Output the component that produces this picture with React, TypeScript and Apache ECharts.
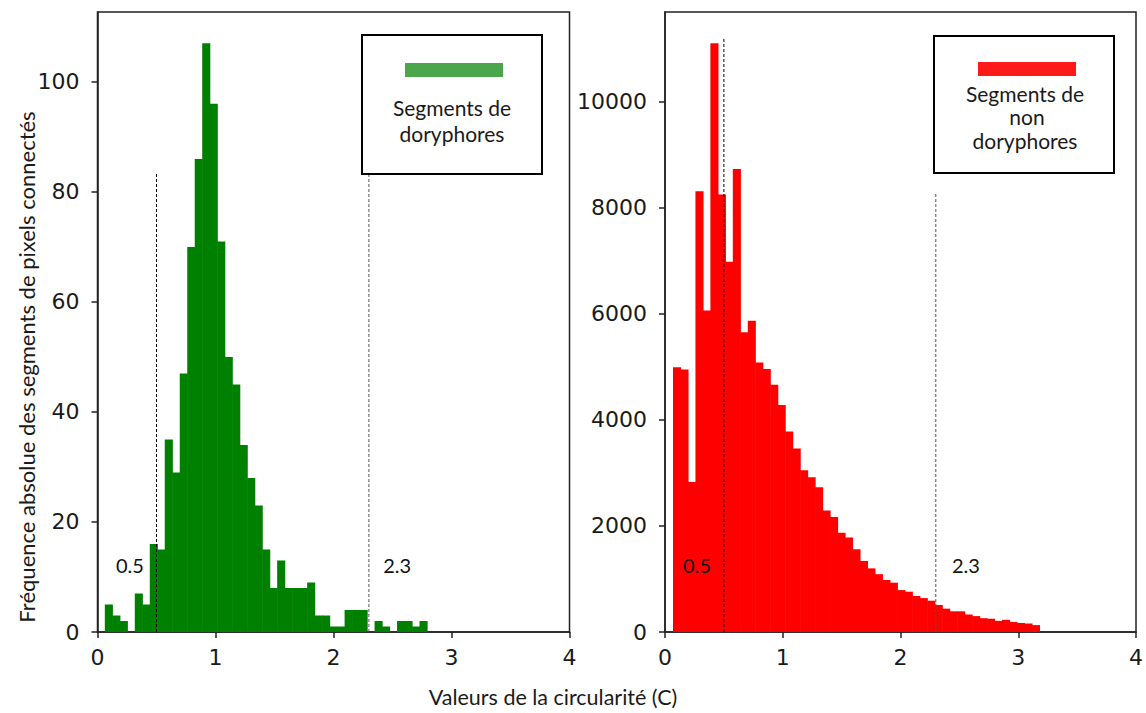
import React, { useEffect, useRef } from 'react';
import * as echarts from 'echarts';

// ---------- data ----------
const X_TICKS = [0, 1, 2, 3, 4];
const GREEN_Y_TICKS = [0, 20, 40, 60, 80, 100];
const RED_Y_TICKS = [0, 2000, 4000, 6000, 8000, 10000];

const GREEN_BIN_START = 0.062;
const GREEN_BIN_WIDTH = 0.0635;
const greenCounts = [
  5, 3, 2, 0, 7, 5, 16, 15, 35, 29, 47, 70, 86, 107, 96, 71, 50, 45, 34, 28, 23, 15,
  8, 13, 8, 8, 8, 9, 3, 3, 1, 1, 4, 4, 4, 0, 2, 1, 0, 2, 2, 1, 2,
];

const RED_BIN_START = 0.068;
const RED_BIN_WIDTH = 0.0635;
const redCounts = [
  4990, 4950, 2830, 8310, 6060, 11100, 8250, 6980, 8730, 5650, 5870, 5080, 4960, 4660,
  4280, 3780, 3460, 3050, 2920, 2730, 2290, 2170, 1870, 1780, 1560, 1340, 1200, 1090,
  980, 930, 790, 760, 680, 640, 590, 510, 440, 390, 390, 330, 300, 260, 250, 210, 230,
  190, 170, 160, 130,
];

const THRESHOLDS = [0.5, 2.3];
const THRESHOLD_LABELS = ['0.5', '2.3'];
const greenThresholdTops = [83.6, 83.6];
const redThresholdTops = [11210, 8270];
const greenLabelPos = [[0.275, 12.2], [2.54, 12.2]];
const redLabelPos = [[0.272, 1263], [2.555, 1263]];

const GREEN_Y_MAX = 112.7;
const RED_Y_MAX = 11690;

const LEGEND_GREEN = ['Segments de', 'doryphores'];
const LEGEND_RED = ['Segments de', 'non', 'doryphores'];
const X_TITLE = 'Valeurs de la circularité (C)';
const Y_TITLE = 'Fréquence absolue des segments de pixels connectés';

// ---------- helpers ----------
const toBins = (start: number, width: number, counts: number[]) =>
  counts.map((c, i) => [start + i * width, start + (i + 1) * width, c]);

const histSeries = (idx: number, bins: number[][], color: string) => ({
  type: 'custom',
  xAxisIndex: idx,
  yAxisIndex: idx,
  data: bins,
  encode: { x: [0, 1], y: 2 },
  clip: true,
  silent: true,
  z: 2,
  renderItem: (params: any, api: any) => {
    const p0 = api.coord([api.value(0), api.value(2)]);
    const p1 = api.coord([api.value(1), 0]);
    return {
      type: 'rect',
      shape: { x: p0[0], y: p0[1], width: p1[0] - p0[0] + 0.6, height: p1[1] - p0[1] },
      style: { fill: color, stroke: null },
    };
  },
});

const thresholdSeries = (idx: number, tops: number[]) =>
  THRESHOLDS.map((t, i) => ({
    type: 'line',
    xAxisIndex: idx,
    yAxisIndex: idx,
    data: [[t, 0], [t, tops[i]]],
    symbol: 'none',
    silent: true,
    z: 5,
    lineStyle: { color: i === 0 ? '#000' : '#555', width: 1, type: [3, 2] },
  }));

const labelSeries = (idx: number, pos: number[][]) => ({
  type: 'scatter',
  xAxisIndex: idx,
  yAxisIndex: idx,
  symbolSize: 0,
  silent: true,
  z: 6,
  itemStyle: { opacity: 1 },
  data: pos.map((p, i) => ({ value: p, name: THRESHOLD_LABELS[i] })),
  label: {
    show: true,
    position: 'inside',
    formatter: (p: any) => p.name,
    fontFamily: 'Lato',
    fontSize: 20,
    color: '#111',
    opacity: 1,
  },
});

const tickFont = { fontFamily: 'DejaVu Sans', fontSize: 22, color: '#1a1a1a' };

const xAxisCfg = (idx: number) => ({
  type: 'value',
  gridIndex: idx,
  min: 0,
  max: 4,
  interval: 1,
  axisLine: { show: true, onZero: false, lineStyle: { color: '#222', width: 1.5 } },
  axisTick: { show: true, length: 6, lineStyle: { color: '#222', width: 1.5 }, customValues: X_TICKS },
  axisLabel: { ...tickFont, margin: 14, customValues: X_TICKS },
  splitLine: { show: false },
});

const yAxisCfg = (idx: number, max: number, ticks: number[]) => ({
  type: 'value',
  gridIndex: idx,
  min: 0,
  max,
  interval: ticks[1] - ticks[0],
  axisLine: { show: true, onZero: false, lineStyle: { color: '#222', width: 1.5 } },
  axisTick: { show: true, length: 6, lineStyle: { color: '#222', width: 1.5 }, customValues: ticks },
  axisLabel: { ...tickFont, margin: 18, customValues: ticks, formatter: (v: number) => String(v) },
  splitLine: { show: false },
});

const legendText = (text: string, x: number, y: number) => ({
  type: 'text',
  x,
  y,
  style: {
    text,
    align: 'center',
    verticalAlign: 'middle',
    font: '21px Lato',
    fill: '#1a1a1a',
  },
});

export default function App() {
  const ref = useRef<HTMLDivElement>(null);

  useEffect(() => {
    const chart = echarts.init(ref.current!, null, { renderer: 'svg' });
    const option: any = {
      animation: false,
      backgroundColor: '#fff',
      grid: [
        { left: 97.5, top: 12, width: 472, height: 620, show: true, borderColor: '#222', borderWidth: 1.5, backgroundColor: 'transparent' },
        { left: 665, top: 12, width: 471, height: 620, show: true, borderColor: '#222', borderWidth: 1.5, backgroundColor: 'transparent' },
      ],
      xAxis: [xAxisCfg(0), xAxisCfg(1)],
      yAxis: [yAxisCfg(0, GREEN_Y_MAX, GREEN_Y_TICKS), yAxisCfg(1, RED_Y_MAX, RED_Y_TICKS)],
      series: [
        histSeries(0, toBins(GREEN_BIN_START, GREEN_BIN_WIDTH, greenCounts), '#008000'),
        histSeries(1, toBins(RED_BIN_START, RED_BIN_WIDTH, redCounts), '#ff0000'),
        ...thresholdSeries(0, greenThresholdTops),
        ...thresholdSeries(1, redThresholdTops),
        labelSeries(0, greenLabelPos),
        labelSeries(1, redLabelPos),
      ],
      graphic: [
        // left legend
        { type: 'rect', shape: { x: 362, y: 35, width: 180, height: 139 }, style: { fill: '#fff', stroke: '#000', lineWidth: 2 }, z: 10 },
        { type: 'rect', shape: { x: 405, y: 63, width: 98, height: 14 }, style: { fill: '#4ca64c' }, z: 11 },
        { ...legendText(LEGEND_GREEN[0], 452, 107), z: 11 },
        { ...legendText(LEGEND_GREEN[1], 452, 133), z: 11 },
        // right legend
        { type: 'rect', shape: { x: 934, y: 36, width: 180, height: 137 }, style: { fill: '#fff', stroke: '#000', lineWidth: 2 }, z: 10 },
        { type: 'rect', shape: { x: 978, y: 62, width: 98, height: 14 }, style: { fill: '#ff1a1a' }, z: 11 },
        { ...legendText(LEGEND_RED[0], 1025, 93), z: 11 },
        { ...legendText(LEGEND_RED[1], 1027, 116), z: 11 },
        { ...legendText(LEGEND_RED[2], 1025, 140), z: 11 },
        // axis titles
        {
          type: 'text',
          x: 553,
          y: 697,
          style: { text: X_TITLE, align: 'center', verticalAlign: 'middle', font: '21.5px Lato', fill: '#1a1a1a' },
        },
        {
          type: 'text',
          x: 26,
          y: 367,
          rotation: Math.PI / 2,
          style: { text: Y_TITLE, align: 'center', verticalAlign: 'middle', font: '22px Lato', fill: '#1a1a1a' },
        },
      ],
    };
    chart.setOption(option);
    return () => chart.dispose();
  }, []);

  return (
    <div
      ref={ref}
      style={{ position: 'fixed', left: 0, top: 0, width: 1146, height: 713, background: '#fff' }}
    />
  );
}
